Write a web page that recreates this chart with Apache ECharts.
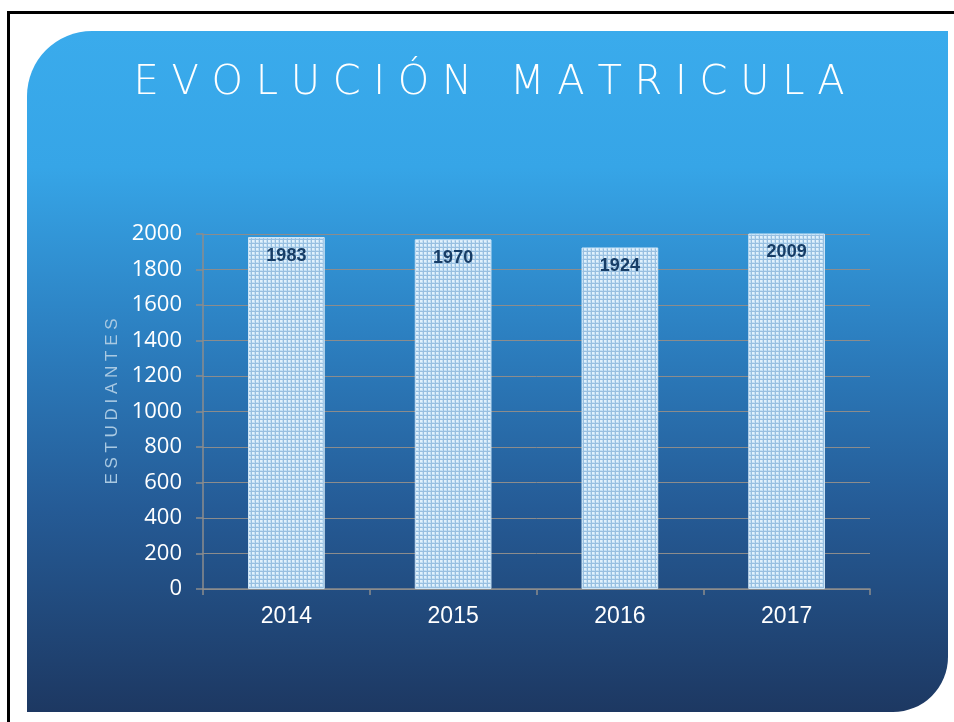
<!DOCTYPE html>
<html><head><meta charset="utf-8">
<script src="https://cdn.jsdelivr.net/npm/echarts@6/dist/echarts.min.js"></script>
<style>html,body{margin:0;padding:0;background:#fff}#c{width:954px;height:722px}</style>
</head><body><div id="c"></div>
<script>
const years = ['2014', '2015', '2016', '2017'];
const students = [1983, 1970, 1924, 2009];
const titleText = 'EVOLUCIÓN MATRICULA';
const axisName = 'ESTUDIANTES';

function spaced(s) { return s.split(' ').map(w => w.split('').join(' ')).join('   '); }

// dotted pattern for bars
const pc = document.createElement('canvas');
pc.width = 4; pc.height = 4;
const g = pc.getContext('2d');
g.fillStyle = '#c4e0f5'; g.fillRect(0, 0, 4, 4);
g.fillStyle = '#e2f1fb'; g.fillRect(0, 0, 2, 2);
g.fillStyle = '#98bfe0'; g.fillRect(3, 0, 1, 4); g.fillRect(0, 3, 4, 1);

const chart = echarts.init(document.getElementById('c'));
chart.setOption({
  animation: false,
  graphic: [
    { type: 'rect', z: -10, silent: true,
      shape: { x: 27, y: 31, width: 921, height: 681, r: [65, 0, 55, 0] },
      style: { fill: new echarts.graphic.LinearGradient(0, 0, 0, 1, [
        { offset: 0, color: '#3aabec' },
        { offset: 0.2, color: '#36a5e7' },
        { offset: 0.45, color: '#2c7fc0' },
        { offset: 0.7, color: '#255b96' },
        { offset: 1, color: '#1d3862' }
      ]) } },
    { type: 'polyline', z: 10, silent: true,
      shape: { points: [[8.5, 740], [8.5, 12.5], [970, 12.5]] },
      style: { stroke: '#000', lineWidth: 3, fill: null } },
    { type: 'text', z: 10, silent: true, x: 489, y: 84,
      style: { text: spaced(titleText), fill: '#ffffff', font: '200 40px "DejaVu Sans"',
        align: 'center', verticalAlign: 'middle' } }
  ],
  grid: { left: 203, right: 84, top: 234, bottom: 133 },
  xAxis: {
    type: 'category', data: years,
    axisLine: { lineStyle: { color: '#8c8c8c', width: 1.5 } },
    axisTick: { show: true, length: 6, lineStyle: { color: '#8c8c8c', width: 1.5 } },
    axisLabel: { color: '#fff', fontSize: 23, fontFamily: 'Liberation Sans', margin: 16 }
  },
  yAxis: {
    type: 'value', min: 0, max: 2000, interval: 200,
    name: axisName.split('').join(' '), nameLocation: 'middle', nameGap: 76, nameRotate: 90,
    nameTextStyle: { color: '#a9c9e2', fontSize: 17, fontFamily: 'Liberation Sans', padding: [0, 0, 0, 20] },
    axisLine: { show: true, lineStyle: { color: '#8c8c8c', width: 1.5 } },
    axisTick: { show: true, length: 7, lineStyle: { color: '#8c8c8c', width: 1.5 } },
    splitLine: { lineStyle: { color: '#8c8c8c', width: 1 } },
    axisLabel: { color: '#fff', fontSize: 22, fontFamily: 'Open Sans', margin: 21,
      formatter: v => String(v) }
  },
  series: [{
    type: 'bar', data: students, barWidth: '46%',
    itemStyle: { color: { image: pc, repeat: 'repeat' }, borderColor: '#cfe6f7', borderWidth: 1 },
    label: { show: true, position: 'insideTop', distance: 10, color: '#173d66',
      fontWeight: 'bold', fontSize: 18, fontFamily: 'Liberation Sans' }
  }]
});
</script></body></html>
